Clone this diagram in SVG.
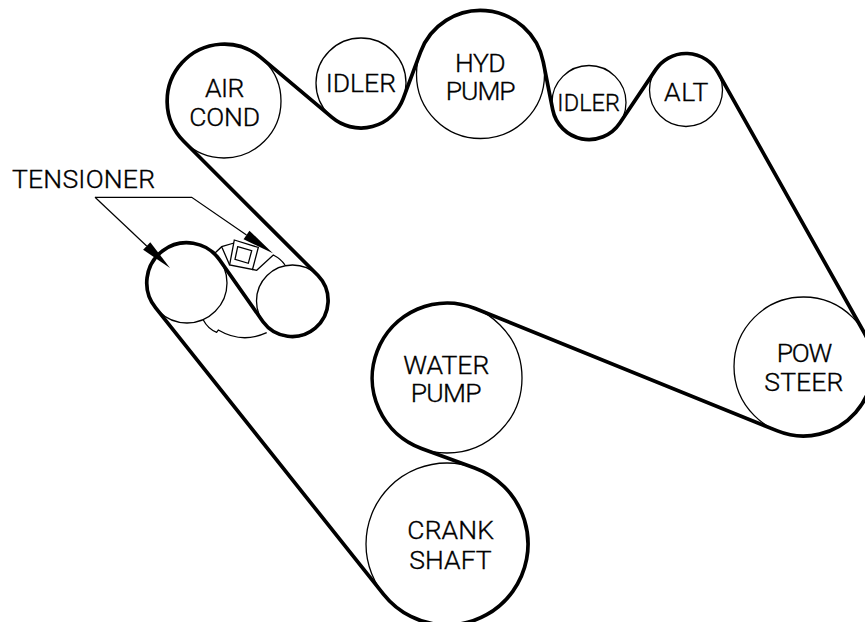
<svg xmlns="http://www.w3.org/2000/svg" width="865" height="622" viewBox="0 0 865 622">
<style>
.p{fill:none;stroke:#000;stroke-width:1.3}
.b{fill:none;stroke:#000;stroke-width:3.7;stroke-linejoin:round}
.l{fill:none;stroke:#000;stroke-width:1.2}
text{font-family:Roboto,"Liberation Sans",Arial,sans-serif;font-size:26.5px;font-weight:300;fill:#000;stroke:#000;stroke-width:.35}
.s{font-size:23.5px}
</style>
<defs>
<marker id="wedge" markerUnits="userSpaceOnUse" markerWidth="34" markerHeight="14" refX="0" refY="7" orient="auto" overflow="visible">
<path d="M0 1.8L32 7L0 12.2Z" fill="#000"/>
</marker>
</defs>
<rect width="865" height="622" fill="#fff"/>
<g id="air-cond"><circle class="p" cx="224" cy="101" r="57"/>
<text x="205" y="97.3" textLength="39.3" lengthAdjust="spacing">AIR</text>
<text x="189.3" y="125.7" textLength="70.7" lengthAdjust="spacing">COND</text></g>
<g id="idler-1"><circle class="p" cx="361" cy="83" r="45"/>
<text x="325.7" y="92.3" textLength="70.3" lengthAdjust="spacing">IDLER</text></g>
<g id="hyd-pump"><circle class="p" cx="480.5" cy="74.5" r="64"/>
<text x="455" y="71.7" textLength="50.7" lengthAdjust="spacing">HYD</text>
<text x="445.7" y="99.7" textLength="70" lengthAdjust="spacing">PUMP</text></g>
<g id="idler-2"><circle class="p" cx="589" cy="102.5" r="37"/>
<text class="s" x="557.3" y="111" textLength="62.7" lengthAdjust="spacing">IDLER</text></g>
<g id="alt"><circle class="p" cx="686" cy="90" r="36.5"/>
<text x="664" y="100.7" textLength="44.3" lengthAdjust="spacing">ALT</text></g>
<g id="pow-steer"><circle class="p" cx="803.5" cy="366.5" r="69.5"/>
<text x="776.7" y="361.7" textLength="55.6" lengthAdjust="spacing">POW</text>
<text x="764.3" y="390.7" textLength="79" lengthAdjust="spacing">STEER</text></g>
<g id="water-pump"><circle class="p" cx="447" cy="378" r="75"/>
<text x="403.3" y="374" textLength="86" lengthAdjust="spacing">WATER</text>
<text x="410.7" y="402.3" textLength="71" lengthAdjust="spacing">PUMP</text></g>
<g id="crank-shaft"><circle class="p" cx="447" cy="544" r="81"/>
<text x="407.3" y="539.3" textLength="86.7" lengthAdjust="spacing">CRANK</text>
<text x="409.3" y="569.3" textLength="82.4" lengthAdjust="spacing">SHAFT</text></g>
<g id="tensioner">
<circle class="p" cx="187" cy="283" r="40"/>
<circle class="p" cx="292.5" cy="301" r="36"/>
<path class="p" d="M234.3 240L258.3 247.5L252.5 269.5L229.6 265Z"/>
<path class="p" d="M237.7 246.7L251.7 250.7L248.3 263.3L235 259.3Z"/>
<path class="p" d="M215 253L221.7 246.7L234 243M221.7 246.7L229.6 265M252.5 269.5L256.7 270.3L273.3 255Q281 259 285 265"/>
<path class="p" d="M203.3 320Q208 329 216.7 332.3L218.3 330Q242 344 266.7 332.7"/>
<text x="12" y="187.7" textLength="143" lengthAdjust="spacing">TENSIONER</text>
</g>
<g id="connectors">
<path class="b" d="M183.7 141.3A57 57 0 0 1 260.7 57.4L332 117.4A45 45 0 0 0 403.2 98.7L420.5 52.1A64 64 0 0 1 543.3 62.1L552.7 109.7A37 37 0 0 0 619.7 123.2L655.7 69.6A36.5 36.5 0 0 1 717.8 72.1L864.1 332.5A69.5 69.5 0 0 1 777.4 430.9L475.2 308.5A75 75 0 1 0 421.4 448.5L474.7 467.9A81 81 0 1 1 383.6 594.4L155.7 307.9A40 40 0 1 1 219.7 260L263 321.7A36 36 0 1 0 318 275.5Z"/>
<path class="l" d="M95 197.3L146.7 246" marker-end="url(#wedge)"/>
<path class="l" d="M95 197.3H191.7L246.5 235" marker-end="url(#wedge)"/>
</g>
</svg>
